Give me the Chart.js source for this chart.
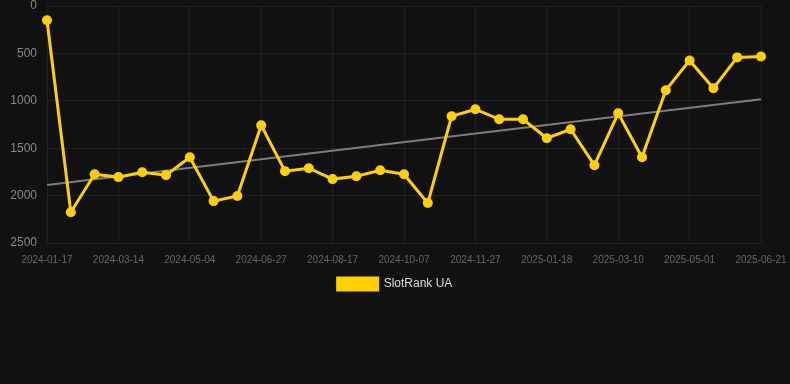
<!DOCTYPE html>
<html>
<head>
<meta charset="utf-8">
<script src="https://cdn.jsdelivr.net/npm/chart.js@4"></script>
<style>
  html, body { margin: 0; padding: 0; background: #111111; }
  #wrap { width: 790px; height: 300px; position: relative; }
</style>
</head>
<body>
<div id="wrap"><canvas id="chart"></canvas></div>
<script>
// dates of each sample (every third one is shown on the axis)
const dateLabels = [
  "2024-01-17", "2024-02-04", "2024-02-22", "2024-03-14", "2024-03-31", "2024-04-17",
  "2024-05-04", "2024-05-22", "2024-06-09", "2024-06-27", "2024-07-14", "2024-07-31",
  "2024-08-17", "2024-09-03", "2024-09-20", "2024-10-07", "2024-10-24", "2024-11-10",
  "2024-11-27", "2024-12-14", "2024-12-31", "2025-01-18", "2025-02-04", "2025-02-21",
  "2025-03-10", "2025-03-27", "2025-04-14", "2025-05-01", "2025-05-18", "2025-06-04",
  "2025-06-21"
];

// SlotRank UA position (lower is better, axis is reversed)
const rankValues = [
  150, 2175, 1775, 1805, 1753, 1784,
  1595, 2058, 2005, 1258, 1742, 1711,
  1826, 1795, 1732, 1774, 2079, 1163,
  1089, 1195, 1195, 1395, 1300, 1679,
  1132, 1595, 889, 574, 868, 542,
  532
];

// trend line end points
const trendStart = 1889;
const trendEnd = 984;

const yTicks = [0, 500, 1000, 1500, 2000, 2500];

const trendValues = dateLabels.map((d, i) =>
  i === 0 ? trendStart : (i === dateLabels.length - 1 ? trendEnd : null));

const yellow = "#FFD000";

new Chart(document.getElementById("chart"), {
  type: "line",
  data: {
    labels: dateLabels,
    datasets: [
      {
        label: "SlotRank UA",
        data: rankValues,
        borderColor: yellow,
        backgroundColor: yellow,
        borderWidth: 3,
        pointRadius: 5,
        pointHoverRadius: 6,
        pointBackgroundColor: yellow,
        pointBorderWidth: 0,
        tension: 0,
        order: 1
      },
      {
        label: "trend",
        data: trendValues,
        spanGaps: true,
        borderColor: "rgba(160,160,160,0.75)",
        borderWidth: 2,
        pointRadius: 0,
        order: 2
      }
    ]
  },
  options: {
    responsive: true,
    maintainAspectRatio: false,
    animation: false,
    layout: { autoPadding: false, padding: 0 },
    plugins: {
      legend: {
        position: "bottom",
        labels: {
          color: "#dddddd",
          font: { family: "Liberation Sans, Arial", size: 12 },
          boxWidth: 40,
          boxHeight: 12,
          filter: (item) => item.text !== "trend"
        }
      },
      tooltip: { enabled: false }
    },
    scales: {
      x: {
        afterFit: (axis) => {
          axis.height = 25;
          axis.paddingLeft = 0;
          axis.paddingRight = 29;
        },
        grid: {
          color: (ctx) => ctx.index % 3 === 0 ? "rgba(255,255,255,0.06)" : "transparent",
          drawTicks: false
        },
        border: { display: false },
        ticks: {
          autoSkip: false,
          maxRotation: 0,
          padding: 11,
          color: "#666666",
          font: { family: "Liberation Sans, Arial", size: 10 },
          callback: function (value, index) {
            return index % 3 === 0 ? dateLabels[index] : "";
          }
        }
      },
      y: {
        reverse: true,
        min: 0,
        max: 2500,
        afterBuildTicks: (axis) => { axis.ticks = yTicks.map(v => ({ value: v })); },
        afterFit: (axis) => {
          axis.width = 47;
          axis.paddingTop = 6;
          axis.paddingBottom = 0;
        },
        grid: { color: "rgba(255,255,255,0.06)", drawTicks: false },
        border: { display: false },
        ticks: {
          padding: 10,
          color: "#888888",
          font: { family: "Liberation Sans, Arial", size: 12 },
          callback: (v) => String(v)
        }
      }
    }
  }
});
</script>
</body>
</html>
